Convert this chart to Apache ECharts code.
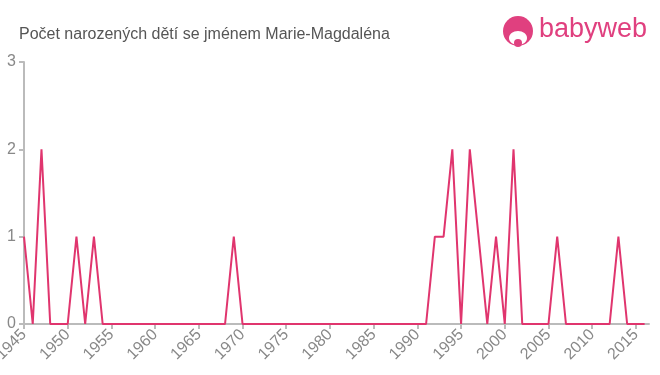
<!DOCTYPE html>
<html>
<head>
<meta charset="utf-8">
<script src="https://cdn.jsdelivr.net/npm/echarts@6/dist/echarts.min.js"></script>
<style>html,body{margin:0;padding:0;background:#fff}#c{width:660px;height:375px}</style>
</head>
<body>
<div id="c"></div>
<script>
const titleText = 'Počet narozených dětí se jménem Marie-Magdaléna';
const years = [1945,1946,1947,1948,1949,1950,1951,1952,1953,1954,1955,1956,1957,1958,1959,1960,1961,1962,1963,1964,1965,1966,1967,1968,1969,1970,1971,1972,1973,1974,1975,1976,1977,1978,1979,1980,1981,1982,1983,1984,1985,1986,1987,1988,1989,1990,1991,1992,1993,1994,1995,1996,1997,1998,1999,2000,2001,2002,2003,2004,2005,2006,2007,2008,2009,2010,2011,2012,2013,2014,2015,2016];
const counts = [1,0,2,0,0,0,1,0,1,0,0,0,0,0,0,0,0,0,0,0,0,0,0,0,1,0,0,0,0,0,0,0,0,0,0,0,0,0,0,0,0,0,0,0,0,0,0,1,1,2,0,2,1,0,1,0,2,0,0,0,0,1,0,0,0,0,0,0,1,0,0,0];
const xTicks = [1945,1950,1955,1960,1965,1970,1975,1980,1985,1990,1995,2000,2005,2010,2015];

const chart = echarts.init(document.getElementById('c'));
chart.setOption({
  animation: false,
  backgroundColor: '#fff',
  title: {
    text: titleText, left: 14, top: 22,
    textStyle: {fontFamily: 'Liberation Sans, Arial, sans-serif', fontSize: 16, fontWeight: 'normal', color: '#555'}
  },
  graphic: [
    {type: 'circle', shape: {cx: 518, cy: 31, r: 15}, style: {fill: '#e0407f'}},
    {type: 'ellipse', shape: {cx: 518, cy: 38, rx: 9, ry: 7}, style: {fill: '#fff'}},
    {type: 'circle', shape: {cx: 518, cy: 43, r: 4}, style: {fill: '#e0407f'}},
    {type: 'text', left: 539, top: 16, style: {text: 'babyweb', fill: '#e0407f', font: '27px "Liberation Sans", Arial, sans-serif'}}
  ],
  grid: {left: 24, right: 11, top: 62, bottom: 51, outerBoundsMode: 'none', containLabel: false},
  xAxis: {
    type: 'value', min: 1945, max: 2016.5,
    axisLine: {show: true, lineStyle: {color: '#bbb', width: 2}},
    axisTick: {show: true, length: 5, lineStyle: {color: '#bbb', width: 2}, customValues: xTicks},
    axisLabel: {rotate: 45, color: '#888', fontSize: 16, fontFamily: 'Liberation Sans, Arial, sans-serif', customValues: xTicks, formatter: v => String(v), margin: 8},
    splitLine: {show: false}
  },
  yAxis: {
    type: 'value', min: 0, max: 3, interval: 1,
    axisLine: {show: true, lineStyle: {color: '#bbb', width: 2}},
    axisTick: {show: true, length: 5, lineStyle: {color: '#bbb', width: 2}},
    axisLabel: {color: '#888', fontSize: 16, fontFamily: 'Liberation Sans, Arial, sans-serif', margin: 8},
    splitLine: {show: false}
  },
  series: [{
    type: 'line',
    data: years.map((y, i) => [y, counts[i]]),
    showSymbol: false,
    lineStyle: {color: '#e0356e', width: 2},
    itemStyle: {color: '#e0356e'}
  }]
});
</script>
</body>
</html>
